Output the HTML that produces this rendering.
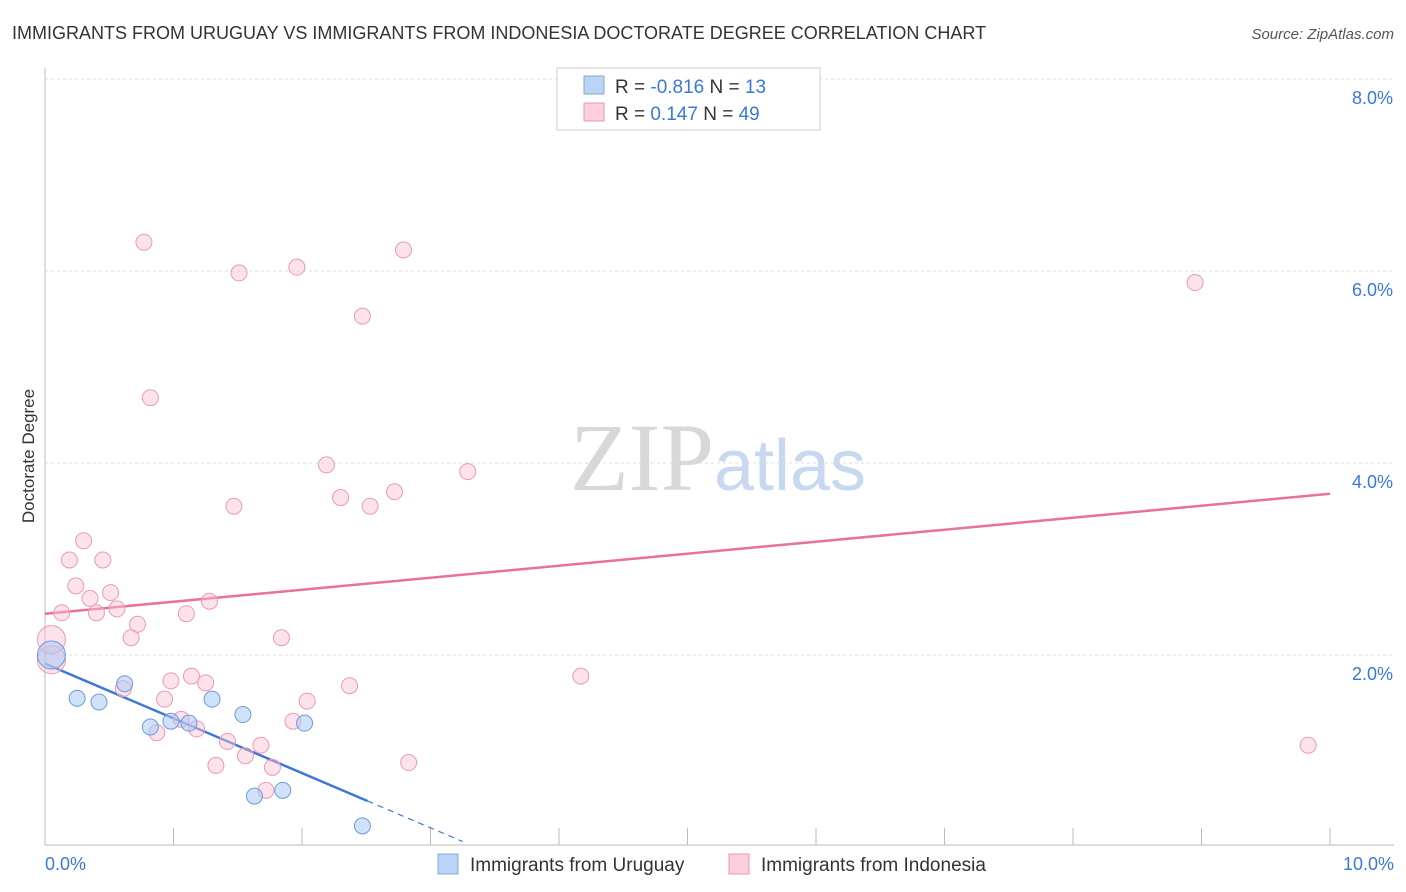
<!DOCTYPE html>
<html><head><meta charset="utf-8"><style>
body{margin:0;background:#fff;font-family:"Liberation Sans",sans-serif;}
svg{display:block}
</style></head><body>
<svg id="chart" width="1406" height="892" xmlns="http://www.w3.org/2000/svg">
<text x="12" y="39" font-size="18" fill="#333">IMMIGRANTS FROM URUGUAY VS IMMIGRANTS FROM INDONESIA DOCTORATE DEGREE CORRELATION CHART</text>
<text x="1394" y="39" font-size="15" fill="#555" text-anchor="end" font-style="italic">Source: ZipAtlas.com</text>
<text x="718" y="490" font-size="96" text-anchor="middle" fill="#d8d8d8" font-family="Liberation Serif">ZIP<tspan fill="#c8d8f0" font-family="Liberation Sans" font-size="72">atlas</tspan></text>
<text transform="translate(34,456) rotate(-90)" font-size="17" fill="#333" text-anchor="middle">Doctorate Degree</text>
<g id="grid"></g><g id="axes"></g><g id="lines"></g><g id="points"></g>
<g>
<rect x="557" y="68" width="263" height="62" fill="#fff" stroke="#ccc"/>
<rect x="584" y="76" width="20" height="18" fill="#b8d4f8" stroke="#8ab"/>
<rect x="584" y="103" width="20" height="18" fill="#fbd0dc" stroke="#e9a"/>
<text x="615" y="93" font-size="19" fill="#333">R = <tspan fill="#3b78d8">-0.816</tspan>   N = <tspan fill="#3b78d8"> 13</tspan></text>
<text x="615" y="120" font-size="19" fill="#333">R =   <tspan fill="#3b78d8">0.147</tspan>   N = <tspan fill="#3b78d8">49</tspan></text>
</g>
<g>
<rect x="438" y="854" width="20" height="20" fill="#b8d4f8" stroke="#8ab"/>
<text x="470" y="871" font-size="19" fill="#333">Immigrants from Uruguay</text>
<rect x="729" y="854" width="20" height="20" fill="#fbd0dc" stroke="#e9a"/>
<text x="761" y="871" font-size="19" fill="#333">Immigrants from Indonesia</text>
</g>
</svg>
<script>
const xTicks=[0,10];
const yTicks=[2,4,6,8];
const blueX=[0.05,0.25,0.42,0.62,0.82,0.98,1.12,1.30,1.54,1.63,1.85,2.02,2.47];
const blueY=[2.00,1.55,1.51,1.70,1.25,1.31,1.29,1.54,1.38,0.53,0.59,1.29,0.22];
const pinkX=[0.05,0.13,0.19,0.24,0.30,0.35,0.40,0.45,0.51,0.56,0.61,0.67,0.72,0.77,0.82,0.87,0.93,0.98,1.06,1.10,1.14,1.18,1.25,1.28,1.33,1.42,1.47,1.51,1.56,1.68,1.72,1.77,1.84,1.93,1.96,2.04,2.19,2.30,2.37,2.47,2.53,2.72,2.79,2.83,3.29,4.17,8.95,9.83,0.05];
const pinkY=[1.95,2.44,2.99,2.72,3.19,2.59,2.44,2.99,2.65,2.48,1.65,2.18,2.32,6.30,4.68,1.19,1.54,1.73,1.33,2.43,1.78,1.23,1.71,2.56,0.85,1.10,3.55,5.98,0.95,1.06,0.59,0.83,2.18,1.31,6.04,1.52,3.98,3.64,1.68,5.53,3.55,3.70,6.22,0.88,3.91,1.78,5.88,1.06,2.16];
const blueTrend=[1.91,-0.57]; // intercept, slope
const pinkTrend=[2.43,0.125];
const sx=v=>45+v*128.5, sy=v=>847-v*96;
const NS="http://www.w3.org/2000/svg";
function mk(tag,attrs,parent){const e=document.createElementNS(NS,tag);for(const k in attrs)e.setAttribute(k,attrs[k]);document.getElementById(parent).appendChild(e);return e;}
yTicks.forEach(t=>{
 const l=mk('line',{x1:45,x2:1394,y1:sy(t),y2:sy(t),stroke:'#ddd','stroke-dasharray':'3,3'},'grid');
 
 
 const tx=mk('text',{x:1393,y:sy(t)+25,'font-size':18,fill:'#3b78d8','text-anchor':'end'},'grid');tx.textContent=t.toFixed(1)+'%';
 
 
});
const ax=mk('line',{x1:45,x2:1394,y1:845,y2:845,stroke:'#bbb'},'axes');


const ay=mk('line',{x1:45,x2:45,y1:68,y2:845,stroke:'#bbb'},'axes');


for(let i=1;i<=10;i++){const t=mk('line',{x1:sx(i),x2:sx(i),y1:828,y2:845,stroke:'#bbb'},'axes');
 
 }
xTicks.forEach((t,i)=>{const tx=mk('text',{x:i?1394:45,y:870,'font-size':18,fill:'#3b78d8','text-anchor':i?'end':'start'},'axes');tx.textContent=t.toFixed(1)+'%';
 
 });
const pl=mk('line',{x1:sx(0),y1:sy(pinkTrend[0]),x2:sx(10),y2:sy(pinkTrend[0]+pinkTrend[1]*10),stroke:'#e8729a','stroke-width':2.5},'lines');


const bl=mk('line',{x1:sx(0),y1:sy(blueTrend[0]),x2:sx(2.51),y2:sy(blueTrend[0]+blueTrend[1]*2.51),stroke:'#3b78d8','stroke-width':2.5},'lines');


const bd=mk('line',{x1:sx(2.51),y1:sy(blueTrend[0]+blueTrend[1]*2.51),x2:sx(3.25),y2:sy(blueTrend[0]+blueTrend[1]*3.25),stroke:'#3b78d8','stroke-width':1.2,'stroke-dasharray':'6,5'},'lines');


pinkX.forEach((x,i)=>{const big=(i===0||i===48);const c=mk('circle',{cx:sx(x),cy:sy(pinkY[i]),r:big?14:8,fill:'rgba(248,190,208,0.45)',stroke:'#eb9ab4','stroke-width':1},'points');
 
 });
blueX.forEach((x,i)=>{const c=mk('circle',{cx:sx(x),cy:sy(blueY[i]),r:i===0?14:8,fill:'rgba(170,200,245,0.55)',stroke:'#6c9be0','stroke-width':1},'points');
 
 });
</script>
</body></html>
